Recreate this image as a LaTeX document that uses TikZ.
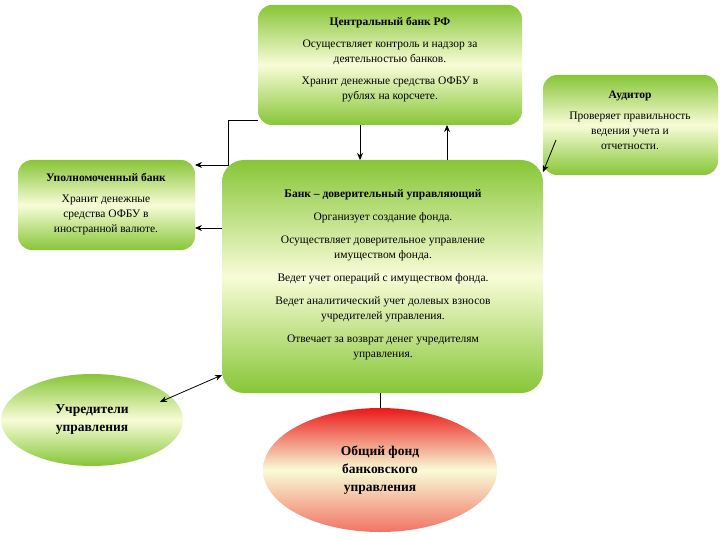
\documentclass[tikz,border=0pt]{standalone}
\usepackage{fontspec}
\setmainfont{Liberation Serif}
\usetikzlibrary{shapes.geometric,arrows.meta}
\definecolor{gr}{RGB}{135,198,55}
\definecolor{pale}{RGB}{248,252,215}
\definecolor{rd}{RGB}{235,25,25}
\tikzset{
 gbox/.style={rounded corners=14pt, top color=gr, bottom color=gr, middle color=pale, draw=none},
 txt/.style={align=center, font=\fontsize{11.5}{15}\selectfont},
 arr/.style={-{Stealth[length=7pt,width=6pt]}, line width=0.8pt},
}
\begin{document}
\begin{tikzpicture}[x=1pt,y=-1pt]
\useasboundingbox (0,0) rectangle (720,540);
\fill[white] (0,0) rectangle (720,540);
\path[gbox] (258,5) rectangle (522,125);
\node[txt] (cb) at (390,60) {\textbf{Центральный банк РФ}\\[7pt]Осуществляет контроль и надзор за\\деятельностью банков.\\[7pt]Хранит денежные средства ОФБУ в\\рублях на корсчете.};
\path[gbox] (543,75) rectangle (718,175);
\node[txt] (aud) at (630,120) {\textbf{Аудитор}\\[6pt]Проверяет правильность\\ведения учета и\\отчетности.};
\path[gbox] (18,160) rectangle (195,250);
\node[txt] (up) at (106,204) {\textbf{Уполномоченный банк}\\[6pt]Хранит денежные\\средства ОФБУ в\\иностранной валюте.};
\path[gbox,rounded corners=22pt] (222,160) rectangle (543,393);
\node[txt] (bm) at (383,275) {\textbf{Банк – доверительный управляющий}\\[8pt]Организует создание фонда.\\[8pt]Осуществляет доверительное управление\\имуществом фонда.\\[8pt]Ведет учет операций с имуществом фонда.\\[8pt]Ведет аналитический учет долевых взносов\\учредителей управления.\\[8pt]Отвечает за возврат денег учредителям\\управления.};
\node[ellipse, minimum width=182pt, minimum height=92pt, top color=gr, bottom color=gr, middle color=pale, txt, font=\bfseries\fontsize{13.5}{18}\selectfont] (uch) at (92,420) {Учредители\\управления};
\node[ellipse, minimum width=234pt, minimum height=124pt, top color=rd, bottom color=rd!60!pale, middle color=pale, txt, font=\bfseries\fontsize{13.5}{18}\selectfont] (fund) at (380,470) {Общий фонд\\банковского\\управления};
\coordinate (cbL) at (258,120);
\coordinate (upT) at (195,165);
\draw[arr] (cbL) -- (228,120) -- (228,165) -- (upT);
\draw[arr] (360,125) -- (360,160);
\draw[arr] (447,160) -- (447,125);
\draw[arr] (556,140) -- (543,172);
\draw[arr] (222,228) -- (195,228);
\draw[{Stealth[length=7pt,width=6pt]}-{Stealth[length=7pt,width=6pt]}, line width=0.8pt] (222,375) -- (160,402);
\draw[line width=0.8pt] (380,393) -- (fund.north);
\end{tikzpicture}
\end{document}
